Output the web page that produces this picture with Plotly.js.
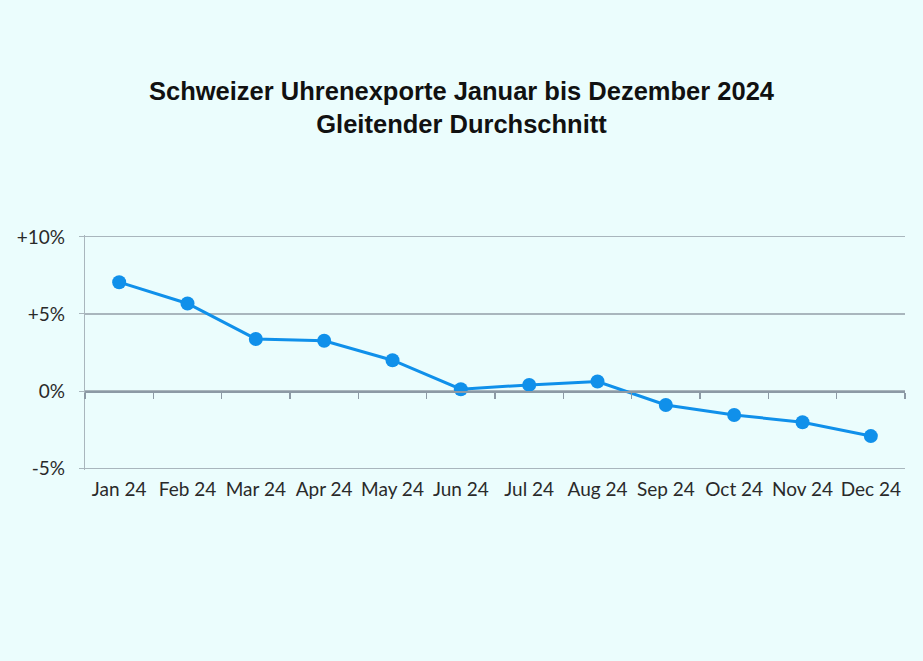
<!DOCTYPE html>
<html>
<head>
<meta charset="utf-8">
<script src="https://cdn.plot.ly/plotly-3.0.1.min.js"></script>
<style>html,body{margin:0;padding:0;background:#ebfdfd;}#chart{width:923px;height:661px;}</style>
</head>
<body>
<div id="chart"></div>
<script>
const months = ["Jan 24","Feb 24","Mar 24","Apr 24","May 24","Jun 24","Jul 24","Aug 24","Sep 24","Oct 24","Nov 24","Dec 24"];
const movingAvg = [7.06, 5.68, 3.38, 3.26, 2.0, 0.12, 0.4, 0.62, -0.9, -1.55, -2.02, -2.92];
const yTickVals = [-5, 0, 5, 10];
const yTickText = ["-5%", "0%", "+5%", "+10%"];

const bg = "#ebfdfd";
const trace = {
  x: months, y: movingAvg, type: "scatter", mode: "lines+markers",
  line: {color: "#1090ea", width: 3},
  marker: {color: "#1090ea", size: 14},
  hoverinfo: "skip"
};
// invisible helper trace on second x axis (zero-line tick marks)
const helper = {x: months, y: movingAvg, xaxis: "x2", type: "scatter", mode: "none", hoverinfo: "skip", showlegend: false};

const yMin = -5.12, yMax = 10.12;
const layout = {
  width: 923, height: 661,
  paper_bgcolor: bg, plot_bgcolor: bg,
  margin: {l: 85, r: 18, t: 235, b: 191},
  showlegend: false,
  title: {
    text: "<b>Schweizer Uhrenexporte Januar bis Dezember 2024<br>Gleitender Durchschnitt</b>",
    font: {family: "Liberation Sans, Arial, sans-serif", size: 25.5, color: "#111"},
    x: 0.5, xanchor: "center", y: 0.849, yanchor: "middle"
  },
  xaxis: {
    type: "category", range: [-0.5, 11.5], showgrid: false, zeroline: false, showline: false,
    ticks: "", ticklen: 0, ticklabelstandoff: 6,
    tickfont: {family: "Lato, Open Sans, sans-serif", size: 19, color: "#2a2a2a"},
    automargin: false
  },
  xaxis2: {
    type: "category", range: [-0.5, 11.5], overlaying: "x", anchor: "free",
    position: (0 - yMin) / (yMax - yMin),
    side: "bottom", showline: true, linecolor: "#8c9aa5", linewidth: 1.5,
    ticks: "outside", tickson: "boundaries", ticklen: 6, tickcolor: "#8c9aa5", tickwidth: 1.5,
    showticklabels: false, showgrid: false, zeroline: false
  },
  yaxis: {
    range: [yMin, yMax], tickvals: yTickVals, ticktext: yTickText,
    showgrid: true, gridcolor: "#a9b6bd", gridwidth: 1.2,
    zeroline: false, showline: true, linecolor: "#a9b6bd", linewidth: 1.2,
    ticks: "outside", ticklen: 5, tickcolor: "#a9b6bd", ticklabelstandoff: 10,
    tickfont: {family: "Lato, Open Sans, sans-serif", size: 19, color: "#2a2a2a"},
    automargin: false
  }
};
Plotly.newPlot("chart", [helper, trace], layout, {displayModeBar: false, staticPlot: true});
</script>
</body>
</html>
